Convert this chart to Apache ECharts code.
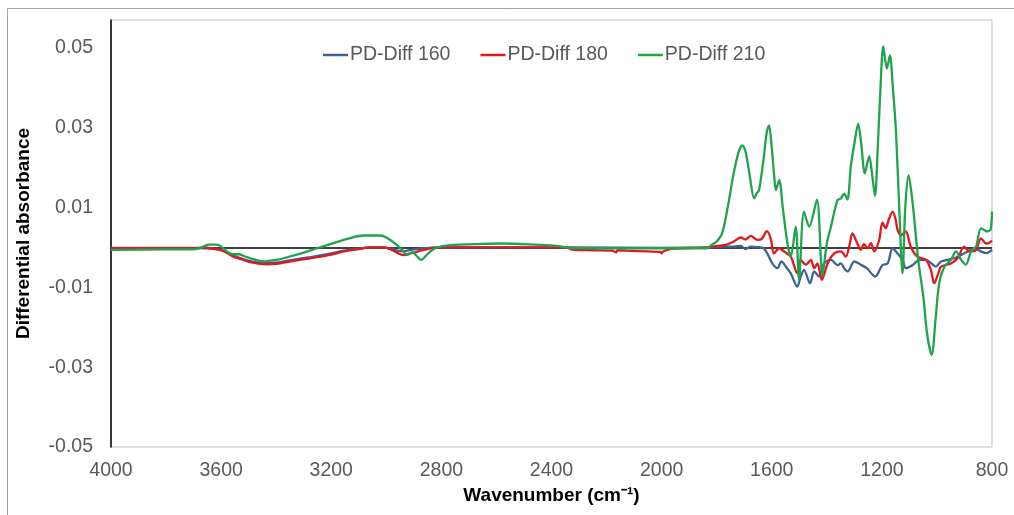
<!DOCTYPE html>
<html>
<head>
<meta charset="utf-8">
<script src="https://cdn.jsdelivr.net/npm/echarts@6/dist/echarts.min.js"></script>
<style>html,body{margin:0;padding:0;background:#fff}#c{width:1014px;height:515px}</style>
</head>
<body>
<div id="c"></div>
<script>
// Tick settings
const xTicks = [4000, 3600, 3200, 2800, 2400, 2000, 1600, 1200, 800];
const yTicks = [-0.05, -0.03, -0.01, 0.01, 0.03, 0.05];
const seriesNames = ['PD-Diff 160', 'PD-Diff 180', 'PD-Diff 210'];

// [wavenumber, differential absorbance]
const diff160 = [[4000,-0.0001],[3700,-0.0001],[3660,-0.0002],[3604,-0.0006],[3580,-0.0012],[3555,-0.002],[3520,-0.0029],[3495,-0.0034],[3460,-0.0038],[3434,-0.0039],[3400,-0.0038],[3373,-0.0035],[3330,-0.003],[3276,-0.0024],[3200,-0.0015],[3155,-0.0008],[3100,-0.0003],[3058,0],[3010,0],[2990,-0.0002],[2960,-0.0008],[2940,-0.001],[2920,-0.0007],[2900,-0.0005],[2860,-0.0002],[2820,0],[2400,0],[2343,0],[2000,-0.0001],[1829,0],[1780,0.0002],[1737,0.0002],[1713,0.0004],[1695,-0.0004],[1676,0.0002],[1652,0.0001],[1630,-0.0002],[1616,-0.0015],[1598,-0.004],[1579,-0.0052],[1565,-0.0035],[1549,-0.0048],[1531,-0.0065],[1507,-0.0098],[1495,-0.0073],[1483,-0.0056],[1461,-0.009],[1446,-0.006],[1428,-0.0073],[1410,-0.004],[1385,-0.0031],[1361,-0.0044],[1349,-0.004],[1337,-0.0052],[1324,-0.006],[1300,-0.0035],[1280,-0.0042],[1255,-0.0052],[1224,-0.0073],[1198,-0.0044],[1179,-0.004],[1161,-0.0002],[1143,-0.0015],[1125,-0.0031],[1113,-0.0052],[1088,-0.0044],[1064,-0.0031],[1040,-0.0031],[1020,-0.004],[1004,-0.0048],[985,-0.0035],[937,-0.0027],[910,-0.0018],[888,-0.001],[864,-0.0002],[840,-0.001],[820,-0.0014],[800,-0.0006]];

const diff180 = [[4000,-0.0002],[3700,-0.0002],[3660,0],[3630,-0.0003],[3604,-0.0006],[3580,-0.0013],[3555,-0.0023],[3520,-0.0031],[3495,-0.0037],[3460,-0.0041],[3434,-0.0042],[3400,-0.0041],[3373,-0.0038],[3330,-0.0033],[3276,-0.0027],[3200,-0.0018],[3155,-0.001],[3100,-0.0004],[3058,0],[3010,0],[2990,-0.0003],[2973,-0.0009],[2950,-0.0017],[2937,-0.0019],[2920,-0.0016],[2900,-0.0013],[2875,-0.0008],[2840,-0.0002],[2804,0],[2600,0],[2400,0],[2343,-0.0001],[2320,-0.0006],[2250,-0.0007],[2180,-0.0008],[2165,-0.0012],[2160,-0.0007],[2130,-0.0008],[2050,-0.001],[2005,-0.0011],[2000,-0.0015],[1995,-0.001],[1960,-0.0003],[1880,-0.0001],[1829,0],[1800,0.0004],[1770,0.0006],[1737,0.0015],[1713,0.0025],[1695,0.002],[1676,0.0029],[1652,0.0019],[1635,0.0022],[1618,0.0041],[1604,0.0023],[1592,-0.0015],[1573,-0.0002],[1555,-0.001],[1531,-0.0023],[1507,-0.0065],[1495,-0.0031],[1476,-0.0043],[1458,-0.0031],[1446,-0.0052],[1434,-0.004],[1418,-0.0081],[1397,-0.004],[1373,-0.0015],[1349,-0.001],[1331,-0.0023],[1318,0.0005],[1307,0.0035],[1289,0.001],[1277,-0.0006],[1265,0.0008],[1252,-0.0002],[1240,0.0011],[1228,-0.001],[1210,0.0018],[1198,0.0062],[1186,0.0048],[1175,0.007],[1161,0.009],[1150,0.007],[1143,0.0044],[1131,0.0031],[1113,0.004],[1095,0.0002],[1071,-0.0023],[1040,-0.0031],[1022,-0.0056],[1010,-0.009],[995,-0.0065],[985,-0.0048],[949,-0.004],[925,-0.0027],[901,0.0002],[882,-0.001],[860,-0.0008],[840,0.0023],[822,0.001],[810,0.0012],[800,0.0017]];

const diff210 = [[4000,-0.0006],[3800,-0.0005],[3690,-0.0004],[3665,0.0002],[3646,0.0007],[3620,0.0007],[3604,0.0004],[3579,-0.001],[3560,-0.0017],[3535,-0.0017],[3515,-0.0022],[3495,-0.0027],[3446,-0.0035],[3400,-0.0031],[3373,-0.0027],[3300,-0.0013],[3252,-0.0002],[3200,0.0009],[3155,0.0019],[3082,0.003],[3022,0.003],[3000,0.0025],[2961,0.0006],[2943,-0.0006],[2925,-0.0019],[2905,-0.0012],[2885,-0.0025],[2874,-0.0031],[2855,-0.002],[2840,-0.001],[2816,0],[2767,0.0006],[2700,0.0008],[2585,0.001],[2480,0.0008],[2404,0.0005],[2340,0],[2320,-0.0002],[2160,-0.0002],[2000,-0.0002],[1900,-0.0002],[1840,-0.0002],[1829,0],[1815,0.0008],[1800,0.0015],[1780,0.0036],[1760,0.01],[1740,0.018],[1720,0.024],[1707,0.0256],[1695,0.024],[1680,0.018],[1664,0.0123],[1655,0.0135],[1646,0.0144],[1630,0.022],[1618,0.029],[1610,0.0306],[1600,0.025],[1590,0.017],[1585,0.0144],[1573,0.0169],[1560,0.01],[1543,0.001],[1531,-0.0023],[1513,0.0052],[1501,-0.008],[1483,0.009],[1464,0.0052],[1436,0.012],[1416,-0.007],[1400,0.001],[1385,0.0052],[1361,0.0119],[1349,0.0123],[1337,0.0135],[1325,0.012],[1313,0.0202],[1300,0.026],[1286,0.031],[1275,0.026],[1262,0.0186],[1246,0.0229],[1235,0.018],[1225,0.0129],[1215,0.025],[1205,0.04],[1195,0.0504],[1182,0.0448],[1171,0.0481],[1160,0.04],[1149,0.0294],[1137,0.01],[1125,-0.0065],[1115,0.01],[1103,0.0181],[1088,0.011],[1068,-0.0031],[1050,-0.012],[1035,-0.022],[1019,-0.0269],[1005,-0.018],[992,-0.009],[973,-0.0048],[949,-0.0031],[931,-0.001],[913,-0.003],[895,-0.0043],[876,-0.001],[858,0.0002],[840,0.0048],[816,0.004],[805,0.0045],[800,0.009]];

const colors = ['#3d6296', '#e0191e', '#20a34c'];
const FONT = "'Liberation Sans', Arial, sans-serif";

const chart = echarts.init(document.getElementById('c'), null, {renderer: 'canvas'});
const mkSeries = (name, data, i) => ({
  name: name, type: 'line', data: data, showSymbol: false, symbol: 'none',
  smooth: 0.3, lineStyle: {color: colors[i], width: 2.3}, itemStyle: {color: colors[i]},
  z: 2 + i, animation: false
});
const series = [mkSeries(seriesNames[0], diff160, 0), mkSeries(seriesNames[1], diff180, 1), mkSeries(seriesNames[2], diff210, 2)];
series[0].markLine = {
  silent: true, symbol: ['none', 'none'], z: 1, animation: false,
  label: {show: false}, lineStyle: {color: '#000', width: 1.5, type: 'solid'},
  data: [{yAxis: 0}]
};

chart.setOption({
  animation: false,
  backgroundColor: '#fff',
  graphic: [{type: 'rect', shape: {x: 7.5, y: 8.5, width: 1100, height: 600}, style: {fill: 'none', stroke: '#a0a0a0', lineWidth: 1}, z: -10}],
  grid: {left: 111, right: 22, top: 20, bottom: 68, show: true, borderColor: '#bfbfbf', borderWidth: 1, backgroundColor: 'transparent'},
  legend: {
    data: seriesNames.map((n, i) => ({name: n, icon: 'rect', itemStyle: {color: colors[i]}})),
    left: 318, top: 40, itemWidth: 25, itemHeight: 2.5, itemGap: 30,
    textStyle: {fontFamily: FONT, fontSize: 19.5, color: '#595959', padding: [0, 0, 0, -3]}
  },
  xAxis: {
    type: 'value', inverse: true, min: 800, max: 4000, interval: 400,
    name: 'Wavenumber (cm\u207B\u00B9)', nameLocation: 'middle', nameGap: 38,
    nameTextStyle: {fontFamily: FONT, fontSize: 19, fontWeight: 'bold', color: '#000'},
    axisLine: {show: false}, axisTick: {show: false}, splitLine: {show: false},
    axisLabel: {fontFamily: FONT, fontSize: 19.5, color: '#595959', margin: 14,
      formatter: v => String(Math.round(v))}
  },
  yAxis: {
    type: 'value', min: -0.05, max: 0.057, interval: 0.02,
    name: 'Differential absorbance', nameLocation: 'middle', nameGap: 78,
    nameTextStyle: {fontFamily: FONT, fontSize: 19, fontWeight: 'bold', color: '#000'},
    axisLine: {show: true, onZero: false, lineStyle: {color: '#000', width: 1.5}},
    axisTick: {show: false}, splitLine: {show: false},
    axisLabel: {fontFamily: FONT, fontSize: 19.5, color: '#595959', margin: 18, showMaxLabel: false,
      formatter: v => yTicks.some(t => Math.abs(t - v) < 1e-9) ? v.toFixed(2) : ''}
  },
  series: series
});
</script>
</body>
</html>
